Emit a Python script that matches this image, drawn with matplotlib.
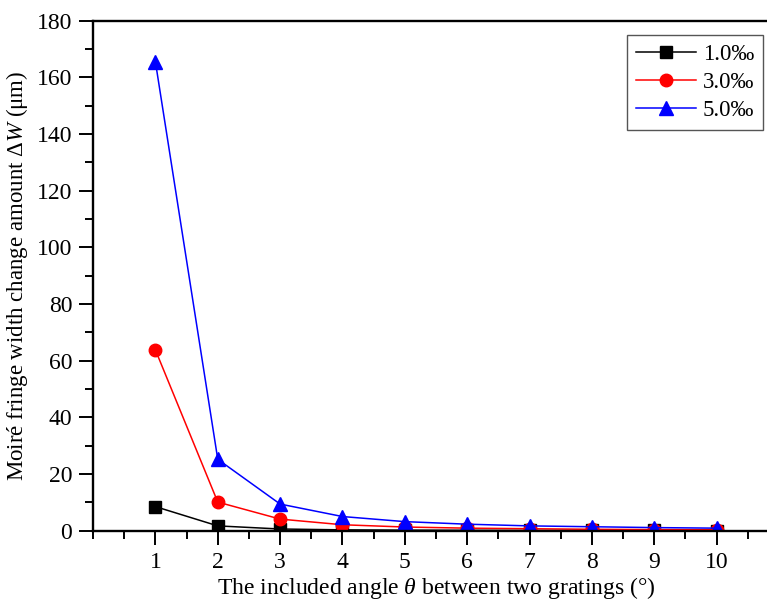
import numpy as np
import matplotlib
matplotlib.use("Agg")
import matplotlib.pyplot as plt
from matplotlib.ticker import MultipleLocator

plt.rcParams['font.family'] = ['Liberation Serif', 'DejaVu Serif']
plt.rcParams['mathtext.fontset'] = 'custom'
plt.rcParams['mathtext.it'] = 'Liberation Serif:italic'
plt.rcParams['mathtext.rm'] = 'Liberation Serif'

# included angle between the two gratings (degrees)
theta = [1, 2, 3, 4, 5, 6, 7, 8, 9, 10]

# fringe width change for each strain level (um)
dw_1 = [8.5, 1.7, 0.6, 0.3, 0.2, 0.15, 0.1, 0.1, 0.08, 0.07]
dw_3 = [63.8, 10.1, 4.1, 2.1, 1.3, 0.9, 0.7, 0.5, 0.4, 0.35]
dw_5 = [165.5, 25.2, 9.4, 5.0, 3.2, 2.3, 1.7, 1.4, 1.1, 0.9]

labels = ['1.0‰', '3.0‰', '5.0‰']

fig = plt.figure(figsize=(7.67, 6.05), dpi=100)
# axes runs past the right edge so the right border is cut off
ax = fig.add_axes([0.1213, 0.1228, 0.8944, 0.8430])

ax.plot(theta, dw_1, color='black', marker='s', ms=8, lw=1.1, label=labels[0])
ax.plot(theta, dw_3, color='red', marker='o', ms=9, lw=1.1, label=labels[1])
ax.plot(theta, dw_5, color='blue', marker='^', ms=10, lw=1.1, label=labels[2])

ax.set_xlim(0, 11)
ax.set_ylim(0, 180)
ax.set_xticks(theta)
ax.xaxis.set_minor_locator(MultipleLocator(0.5))
ax.yaxis.set_major_locator(MultipleLocator(20))
ax.yaxis.set_minor_locator(MultipleLocator(10))
ax.tick_params(which='major', direction='out', length=10, width=1.4, labelsize=17, pad=5)
ax.tick_params(which='minor', direction='out', length=6, width=1.4)
ax.tick_params(axis='x', which='both', top=False)
ax.tick_params(axis='y', which='both', right=False)
for sp in ax.spines.values():
    sp.set_linewidth(1.7)

ax.set_xlabel(r'The included angle $\theta$ between two gratings (°)', fontsize=17, labelpad=2)
ax.set_ylabel(r'Moiré fringe width change amount Δ$W$ (μm)', fontsize=16.5, labelpad=5)

leg = ax.legend(loc='upper right', bbox_to_anchor=(0.995, 0.942), bbox_transform=fig.transFigure,
                borderaxespad=0, fontsize=16.5, fancybox=False, edgecolor='#555555', framealpha=1,
                handlelength=2.6, handletextpad=0.3, borderpad=0.4, labelspacing=0.3)
leg.get_frame().set_linewidth(1.0)

fig.savefig('out.png', dpi=100)
